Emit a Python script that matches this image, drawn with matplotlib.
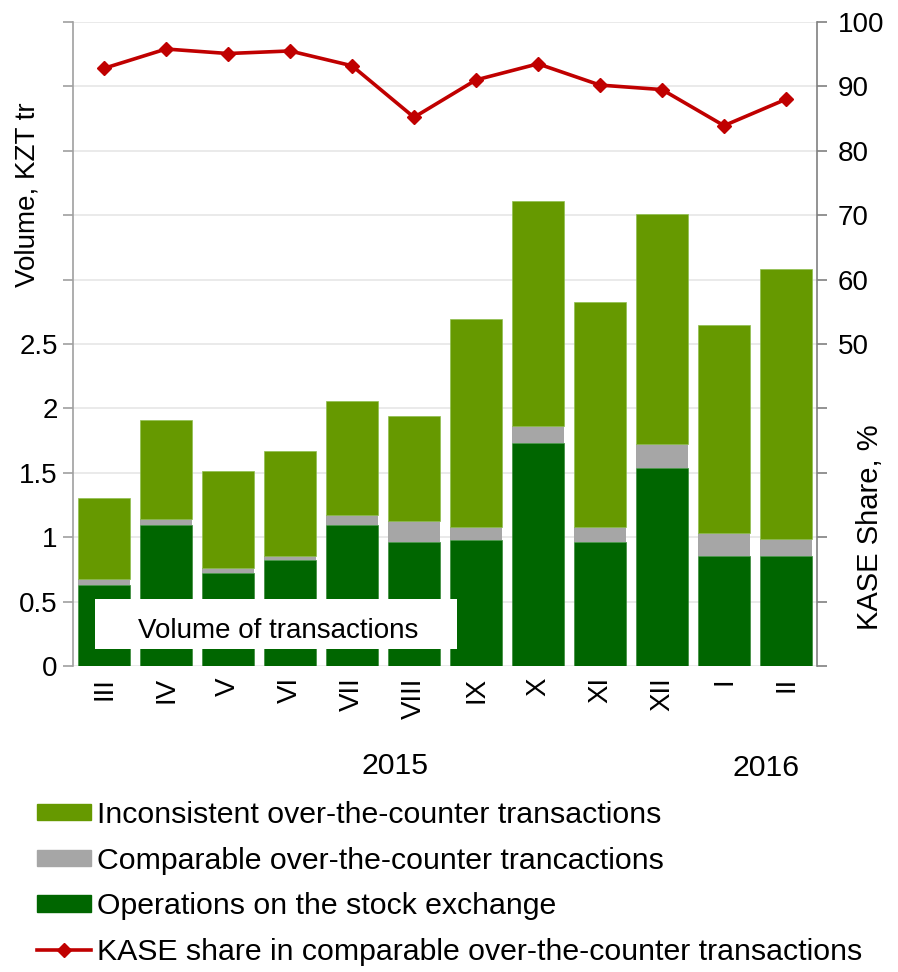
import matplotlib
matplotlib.use("Agg")
import matplotlib.pyplot as plt
from matplotlib.patches import Rectangle
from matplotlib.lines import Line2D
from matplotlib.patches import Patch

plt.rcParams["font.family"] = ["Liberation Sans", "DejaVu Sans"]

months = ["III", "IV", "V", "VI", "VII", "VIII", "IX", "X", "XI", "XII", "I", "II"]

# KZT tr
exchange = [0.63, 1.095, 0.725, 0.82, 1.095, 0.963, 0.978, 1.734, 0.963, 1.54, 0.857, 0.857]
comparable_otc = [0.048, 0.046, 0.033, 0.034, 0.08, 0.163, 0.101, 0.129, 0.116, 0.181, 0.173, 0.126]
totals = [1.302, 1.91, 1.512, 1.669, 2.055, 1.943, 2.694, 3.61, 2.825, 3.51, 2.647, 3.08]
# KASE share, %
kase_share = [92.8, 95.8, 95.1, 95.5, 93.2, 85.2, 91.0, 93.5, 90.2, 89.5, 83.9, 88.0]

inconsistent_otc = [t - e - c for t, e, c in zip(totals, exchange, comparable_otc)]

c_light = "#669900"
c_gray = "#A6A6A6"
c_dark = "#006600"
c_red = "#C00000"
fs = 20
fs_big = 21.8

fig = plt.figure(figsize=(8.98, 9.72), dpi=100)
ax = fig.add_axes([0.0813, 0.3148, 0.8285, 0.6626])
ax2 = ax.twinx()

x = list(range(len(months)))
w = 0.84
ax.bar(x, exchange, w, color=c_dark, edgecolor="#3a8a3a", linewidth=0.5, zorder=2)
bottom2 = exchange
ax.bar(x, comparable_otc, w, bottom=bottom2, color=c_gray, linewidth=0, zorder=2)
bottom3 = [a + b for a, b in zip(exchange, comparable_otc)]
ax.bar(x, inconsistent_otc, w, bottom=bottom3, color=c_light,
       edgecolor="#8fbf4f", linewidth=0.5, zorder=2)

ax.set_xlim(-0.5, len(months) - 0.5)
ax.set_ylim(0, 5)
ax.set_yticks([i * 0.5 for i in range(11)])
ax.set_yticklabels(["0", "0.5", "1", "1.5", "2", "2.5", "", "", "", "", ""], fontsize=fs)
ax.set_xticks(x)
ax.set_xticklabels(months, rotation=90, fontsize=fs)
ax.tick_params(axis="x", length=0, pad=8)
ax.tick_params(axis="y", length=7, width=1.2, color="#a0a0a0", pad=4)
ax.grid(axis="y", color="#e6e6e6", linewidth=1.2, zorder=0)
ax.set_axisbelow(True)
for s in ["top", "bottom", "right"]:
    ax.spines[s].set_visible(False)
ax.spines["left"].set_color("#a0a0a0")
ax.spines["left"].set_linewidth(1.2)

ax2.plot(x, kase_share, color=c_red, linewidth=2.6, marker="D", markersize=7,
         zorder=3)
ax2.set_ylim(0, 100)
ax2.set_yticks(range(0, 101, 10))
ax2.set_yticklabels(["", "", "", "", "", "50", "60", "70", "80", "90", "100"], fontsize=fs)
ax2.tick_params(axis="y", length=7, width=1.2, color="#808080", pad=8)
for s in ["top", "bottom", "left"]:
    ax2.spines[s].set_visible(False)
ax2.spines["right"].set_color("#808080")
ax2.spines["right"].set_linewidth(1.2)

# label box inside the plot
ax2.add_patch(Rectangle((0.0296, 0.0264), 0.487, 0.078, transform=ax.transAxes,
                        facecolor="white", edgecolor="none", zorder=4))
ax2.text(0.0874, 0.054, "Volume of transactions", transform=ax.transAxes,
         fontsize=fs, va="center", ha="left", zorder=5)

fig.text(0.031, 0.80, "Volume, KZT tr", rotation=90, fontsize=fs,
         ha="center", va="center")
fig.text(0.969, 0.458, "KASE Share, %", rotation=90, fontsize=21,
         ha="center", va="center")

fig.text(0.44, 1 - 766 / 972, "2015", fontsize=fs_big, ha="center", va="center")
fig.text(0.853, 1 - 768 / 972, "2016", fontsize=fs_big, ha="center", va="center")

handles = [
    Patch(color=c_light, label="Inconsistent over-the-counter transactions"),
    Patch(color=c_gray, label="Comparable over-the-counter trancactions"),
    Patch(color=c_dark, label="Operations on the stock exchange"),
    Line2D([], [], color=c_red, linewidth=2.6, marker="D", markersize=7,
           label="KASE share in comparable over-the-counter transactions"),
]
fig.legend(handles=handles, loc="upper left", bbox_to_anchor=(0.041, 1 - 801 / 972),
           frameon=False, fontsize=fs_big, handlelength=1.78, handleheight=0.46,
           handletextpad=0.2, labelspacing=0.58, borderpad=0, borderaxespad=0)

fig.savefig("out.png", dpi=100)
